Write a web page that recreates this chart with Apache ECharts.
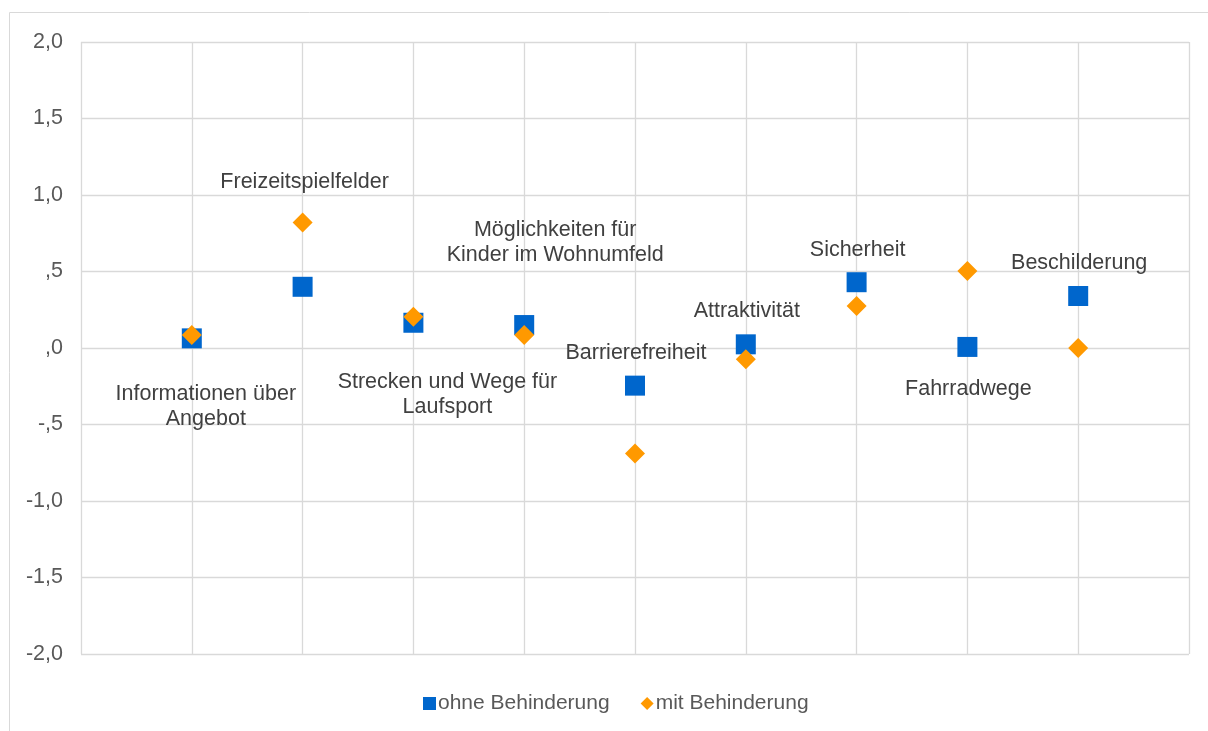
<!DOCTYPE html>
<html><head><meta charset="utf-8">
<script src="https://cdn.jsdelivr.net/npm/echarts@6/dist/echarts.min.js"></script>
<style>html,body{margin:0;padding:0;background:#fff}#c{width:1208px;height:731px}</style>
</head><body><div id="c"></div>
<script>
const categories = ['Informationen über\nAngebot','Freizeitspielfelder','Strecken und Wege für\nLaufsport','Möglichkeiten für\nKinder im Wohnumfeld','Barrierefreiheit','Attraktivität','Sicherheit','Fahrradwege','Beschilderung'];
const ohneBehinderung = [0.063, 0.40, 0.165, 0.15, -0.246, 0.024, 0.43, 0.007, 0.34];
const mitBehinderung  = [0.085, 0.82, 0.205, 0.085, -0.69, -0.074, 0.275, 0.503, 0.0];
const yTickValues = [-2, -1.5, -1, -0.5, 0, 0.5, 1, 1.5, 2];
const yTickLabels = ['-2,0','-1,5','-1,0','-,5',',0',',5','1,0','1,5','2,0'];
const seriesNames = ['ohne Behinderung','mit Behinderung'];

// label placement (pixel offsets from the square marker), layout only
const labelOffsets = [[14,68],[2,-105],[34,72],[31,-82],[1,-33],[1,-33],[1,-32],[1,42],[1,-33]];

const chart = echarts.init(document.getElementById('c'));
const font = '"Liberation Sans", Arial, sans-serif';
chart.setOption({
  animation: false,
  graphic: [{type:'rect', shape:{x:9.5,y:12.5,width:1220,height:740}, style:{fill:'none', stroke:'#d9d9d9', lineWidth:1}, z:-1}],
  grid: {left:81, right:19, top:42, bottom:77},
  xAxis: {type:'value', min:0, max:10, interval:1,
    axisLabel:{show:false}, axisTick:{show:false},
    axisLine:{show:false},
    splitLine:{show:true, lineStyle:{color:'#d9d9d9', width:1.3}}},
  yAxis: {type:'value', min:-2, max:2, interval:0.5,
    axisLine:{show:false}, axisTick:{show:false},
    axisLabel:{color:'#595959', fontSize:21.5, fontFamily:font, margin:18,
      formatter: v => { const i = yTickValues.findIndex(t => Math.abs(t - v) < 1e-9); return i >= 0 ? yTickLabels[i] : ''; }},
    splitLine:{lineStyle:{color:'#d9d9d9', width:1.3}}},
  legend: {bottom:12, left:418, itemWidth:13, itemHeight:13, itemGap:31,
    textStyle:{color:'#595959', fontSize:21, fontFamily:font, padding:[0,0,0,-3]},
    data:[{name:seriesNames[0], icon:'rect'},{name:seriesNames[1], icon:'diamond'}]},
  series: [
    {name:seriesNames[0], type:'scatter', symbol:'rect', symbolSize:20,
     itemStyle:{color:'#0066CC', opacity:1}, z:2,
     data: ohneBehinderung.map((v,i) => ({value:[i+1, v],
       label:{show:true, position:'inside', offset:labelOffsets[i], formatter:categories[i],
         color:'#404040', fontSize:21.5, fontFamily:font, lineHeight:25, align:'center'}}))},
    {name:seriesNames[1], type:'scatter', symbol:'diamond', symbolSize:20,
     itemStyle:{color:'#FF9900', opacity:1}, z:3,
     data: mitBehinderung.map((v,i) => [i+1, v])}
  ]
});
</script></body></html>
